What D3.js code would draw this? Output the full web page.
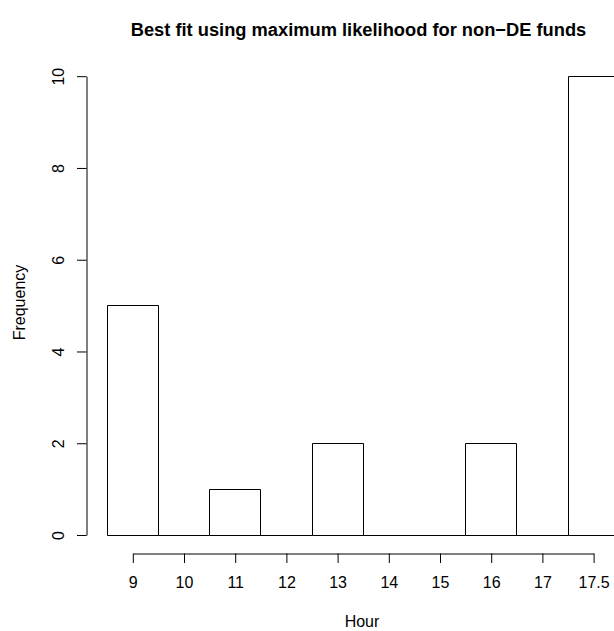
<!DOCTYPE html>
<html>
<head>
<meta charset="utf-8">
<script src="https://cdn.jsdelivr.net/npm/d3@7"></script>
<style>
  html, body { margin: 0; padding: 0; background: #fff; }
  svg { display: block; font-family: 'Liberation Sans', Arial, Helvetica, sans-serif; }
</style>
</head>
<body>
<div id="chart"></div>
<script>
// data ----------------------------------
const hours = ['9', '10', '11', '12', '13', '14', '15', '16', '17', '17.5'];
const frequency = [5, 0, 1, 0, 2, 0, 0, 2, 0, 10];
const yTicks = [0, 2, 4, 6, 8, 10];

const titleText = 'Best fit using maximum likelihood for non\u2212DE funds';
const xLabel = 'Hour';
const yLabel = 'Frequency';

const W = 614, H = 631;

const svg = d3.select('#chart').append('svg')
  .attr('width', W)
  .attr('height', H);

// bars sit edge to edge (space = 0), axis ticks at bar centres
const x = d3.scaleBand().domain(hours).range([106.7, 618.7]).padding(0);
const xTick = d3.scalePoint().domain(hours).range([132.3, 132.3 + 9 * 51.2]);
const y = d3.scaleLinear().domain([0, 10]).range([534.5, 75.7]);

// bars as closed paths so empty bins still leave their base line
svg.append('g')
  .selectAll('path')
  .data(frequency)
  .join('path')
  .attr('d', (d, i) => {
    const x0 = Math.round(x(hours[i])) + 0.5;
    const x1 = Math.round(x(hours[i]) + x.bandwidth()) + 0.5;
    const y0 = Math.round(y(0)) + 0.5;
    const y1 = Math.round(y(d)) + 0.5;
    return `M${x0},${y0}V${y1}H${x1}V${y0}Z`;
  })
  .attr('fill', '#fff')
  .attr('stroke', '#000')
  .attr('stroke-width', 1);

// x axis
const xAxis = svg.append('g')
  .attr('transform', 'translate(0.5,553.5)')
  .call(d3.axisBottom(xTick).tickSize(9.5).tickSizeOuter(0).tickPadding(14));
xAxis.selectAll('text').attr('font-size', 16).attr('fill', '#000').attr('font-family', null);
xAxis.selectAll('path, line').attr('stroke', '#000');

// y axis
const yAxis = svg.append('g')
  .attr('transform', 'translate(86.5,0.5)')
  .call(d3.axisLeft(y).tickValues(yTicks).tickSize(9.5).tickSizeOuter(0));
yAxis.selectAll('text')
  .attr('x', null).attr('dy', null)
  .attr('transform', 'translate(-23,0) rotate(-90)')
  .attr('text-anchor', 'middle')
  .attr('font-size', 16).attr('fill', '#000').attr('font-family', null);
yAxis.selectAll('path, line').attr('stroke', '#000');

// title + axis labels
svg.append('text')
  .attr('x', 358.5).attr('y', 35.5)
  .attr('text-anchor', 'middle')
  .attr('font-weight', 'bold')
  .attr('font-size', 18.3)
  .text(titleText);

svg.append('text')
  .attr('x', 362).attr('y', 626.5)
  .attr('text-anchor', 'middle')
  .attr('font-size', 16)
  .text(xLabel);

svg.append('text')
  .attr('transform', 'translate(24.5,302.5) rotate(-90)')
  .attr('text-anchor', 'middle')
  .attr('font-size', 16)
  .text(yLabel);
</script>
</body>
</html>
